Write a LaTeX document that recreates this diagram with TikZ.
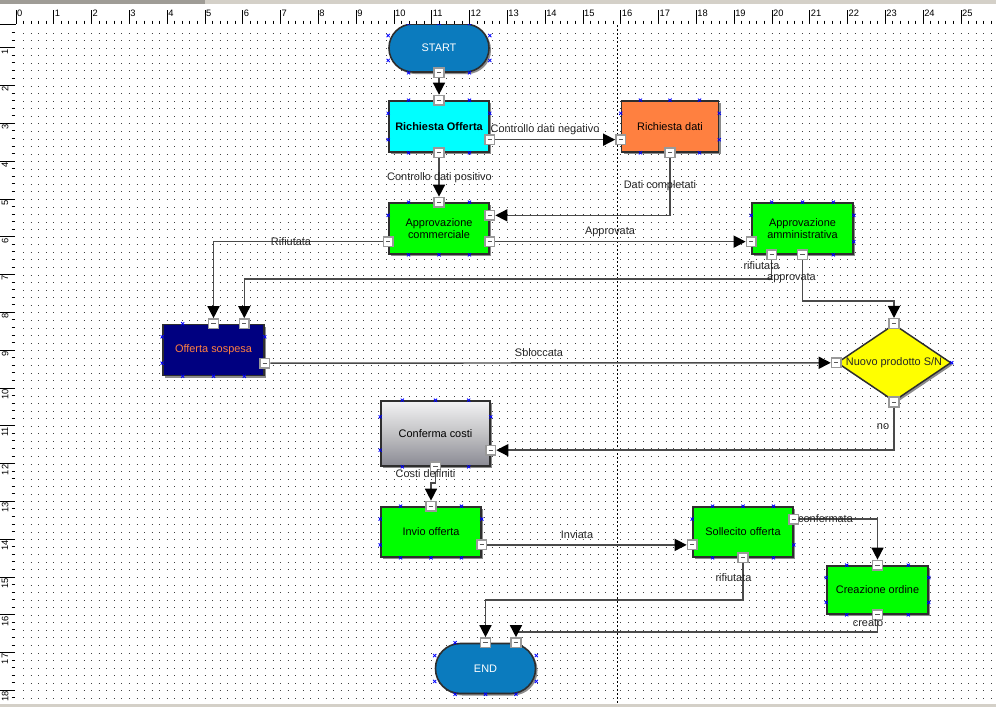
\documentclass[tikz,border=0pt]{standalone}
\usepackage{fontspec}
\setmainfont{Liberation Sans}
\usetikzlibrary{arrows.meta,calc,shapes.geometric,shadows}
\definecolor{startblue}{HTML}{0B7BBE}
\definecolor{aqua}{HTML}{00FFFF}
\definecolor{tangerine}{HTML}{FF8040}
\definecolor{lime}{HTML}{00FF00}
\definecolor{navy}{HTML}{000080}
\definecolor{lemon}{HTML}{FFFF00}
\definecolor{edge}{HTML}{2E2E2E}
\definecolor{wire}{HTML}{4A4A4A}
\definecolor{panel}{HTML}{D4D0C8}
\definecolor{steelA}{HTML}{F2F2F4}
\definecolor{steelB}{HTML}{C2C2C4}
\definecolor{steelC}{HTML}{8A8A94}
\tikzset{
  block/.style={draw=edge,line width=1.2pt,inner sep=0pt,align=center,font=\fontsize{8.2}{9.6}\selectfont,
    minimum width=75pt,minimum height=38.25pt,
    drop shadow={shadow xshift=1.5pt,shadow yshift=-1.5pt,fill=black!45,opacity=1}},
  term/.style={block,rounded corners=17.9pt,fill=startblue,text=white,minimum height=36pt},
  decision/.style={diamond,draw=edge,line width=1.1pt,fill=lemon,inner sep=0pt,
    minimum width=85.5pt,minimum height=57.75pt,
    drop shadow={shadow xshift=1.5pt,shadow yshift=-1.5pt,fill=black!45,opacity=1}},
  port/.style={draw=black!40,fill=white,line width=1.1pt,minimum size=7.2pt,inner sep=0pt,
    path picture={\draw[black!65,line width=.7pt] ([xshift=-1.6pt]path picture bounding box.center) -- ([xshift=1.6pt]path picture bounding box.center);}},
  wire/.style={draw=wire,line width=1.1pt,-{Triangle[length=9pt,width=9pt,color=black]}},
  lbl/.style={font=\fontsize{8.2}{9.6}\selectfont,text=black!85,inner sep=0pt},
  dotrow/.style={line width=.75pt,draw=black!75,dash pattern=on .75pt off 4.92pt},
  pageline/.style={line width=.75pt,dash pattern=on 1.5pt off 1.5pt},
  rulertick/.style={line width=.75pt,draw=black},
  rulenum/.style={font=\fontsize{7}{7}\selectfont,inner sep=0pt},
  xcross/.pic={\draw[blue,line width=.6pt] (-1.6,-1.6) -- (1.6,1.6) (-1.6,1.6) -- (1.6,-1.6);},
}
\newcommand{\xmarks}[1]{%
  \foreach \f in {.2,.5,.8}{
    \pic at ($(#1.north west)!\f!(#1.north east)$) {xcross};
    \pic at ($(#1.south west)!\f!(#1.south east)$) {xcross};}
  \foreach \f in {.25,.75}{
    \pic at ($(#1.north west)!\f!(#1.south west)$) {xcross};
    \pic at ($(#1.north east)!\f!(#1.south east)$) {xcross};}}
\newcommand{\port}[4]{\node[port] (#1) at ($(#2)!#3!(#4)$) {};}

\begin{document}
\begin{tikzpicture}[x=0.75pt,y=-0.75pt]
  \useasboundingbox (0,0) rectangle (996,707);
  \fill[white] (0,0) rectangle (996,707);
  % grid and page break
  \foreach \k in {3,...,91} \draw[dotrow] (23.1,{10.5+7.56*\k}) -- (996,{10.5+7.56*\k});
  \draw[pageline] (617,25) -- (617,704);

  % shapes
  \node[term] (start) at (439,48) {START};
  \node[block,fill=aqua,font=\fontsize{8.2}{9.6}\selectfont\bfseries] (ro) at (439,126.5) {Richiesta Offerta};
  \node[block,fill=tangerine,minimum width=72.75pt] (rd) at (670,126.5) {Richiesta dati};
  \node[block,fill=lime] (ac) at (439,228.5) {Approvazione\\commerciale};
  \node[block,fill=lime,minimum width=75.75pt] (aa) at (802.5,228.5) {Approvazione\\amministrativa};
  \node[block,fill=navy,text=tangerine,minimum width=75.75pt] (os) at (213.5,350) {Offerta sospesa};
  \node[decision] (np) at (894,362.75) {};
  \node[lbl] (np-txt) at (np) {Nuovo prodotto S/N};
  \node[block,top color=steelA,bottom color=steelC,middle color=steelB,minimum width=81.75pt,minimum height=48.75pt] (cc) at (435.5,433.5) {Conferma costi};
  \node[block,fill=lime,minimum height=37.5pt] (io) at (431,532) {Invio offerta};
  \node[block,fill=lime,minimum height=37.5pt] (so) at (743,532) {Sollecito offerta};
  \node[block,fill=lime,minimum width=75.75pt,minimum height=36pt] (co) at (877.5,590) {Creazione ordine};
  \node[term,minimum height=37.5pt,rounded corners=18.6pt] (end) at (485.5,668.5) {END};

  \foreach \b in {start,ro,rd,ac,aa,os,cc,io,so,co,end} {\xmarks{\b}}
  \pic at (np.east) {xcross};

  % ports
  \node[port] (start-b) at (start.south) {};
  \node[port] (ro-t) at (ro.north) {};
  \port{ro-r}{ro.north east}{.75}{ro.south east}
  \node[port] (ro-b) at (ro.south) {};
  \port{rd-l}{rd.north west}{.75}{rd.south west}
  \node[port] (rd-b) at (rd.south) {};
  \node[port] (ac-t) at (ac.north) {};
  \port{ac-r1}{ac.north east}{.25}{ac.south east}
  \port{ac-r2}{ac.north east}{.75}{ac.south east}
  \port{ac-l}{ac.north west}{.75}{ac.south west}
  \port{aa-l}{aa.north west}{.75}{aa.south west}
  \port{aa-b1}{aa.south west}{.2}{aa.south east}
  \node[port] (aa-b2) at (aa.south) {};
  \node[port] (os-t1) at (os.north) {};
  \port{os-t2}{os.north west}{.8}{os.north east}
  \port{os-r}{os.north east}{.75}{os.south east}
  \node[port] (np-t) at (np.north) {};
  \node[port] (np-l) at (np.west) {};
  \node[port] (np-b) at (np.south) {};
  \port{cc-r}{cc.north east}{.75}{cc.south east}
  \node[port] (cc-b) at (cc.south) {};
  \node[port] (io-t) at (io.north) {};
  \port{io-r}{io.north east}{.75}{io.south east}
  \port{so-l}{so.north west}{.75}{so.south west}
  \port{so-r}{so.north east}{.25}{so.south east}
  \node[port] (so-b) at (so.south) {};
  \node[port] (co-t) at (co.north) {};
  \node[port] (co-b) at (co.south) {};
  \node[port] (end-t1) at (end.north) {};
  \port{end-t2}{end.north west}{.8}{end.north east}

  % links
  \draw[wire] (start-b) -- (ro-t);
  \draw[wire] (ro-r) -- (rd-l);
  \draw[wire] (ro-b) -- (ac-t);
  \draw[wire] (rd-b) |- (ac-r1);
  \draw[wire] (ac-r2) -- (aa-l);
  \draw[wire] (ac-l) -| (os-t1);
  \draw[wire] (aa-b1) -- ++(0,24) -| (os-t2);
  \draw[wire] (aa-b2) -- ++(0,46) -| (np-t);
  \draw[wire] (os-r) -- (np-l);
  \draw[wire] (np-b) |- (cc-r);
  \draw[wire] (cc-b) -- ++(0,16) -| (io-t);
  \draw[wire] (io-r) -- (so-l);
  \draw[wire] (so-r) -| (co-t);
  \draw[wire] (so-b) -- ++(0,42) -| (end-t1);
  \draw[wire] (co-b) -- ++(0,17) -| (end-t2);

  % link labels
  \node[lbl] (l-neg) at (545,130) {Controllo dati negativo};
  \node[lbl] (l-pos) at (439.5,178) {Controllo dati positivo};
  \node[lbl] (l-dc) at (660,186) {Dati completati};
  \node[lbl] (l-appr) at (610,232) {Approvata};
  \node[lbl] (l-rif1) at (291,242) {Rifiutata};
  \node[lbl] (l-rif2) at (761.5,266) {rifiutata};
  \node[lbl] (l-appr2) at (791.5,278) {approvata};
  \node[lbl] (l-sbl) at (539,353) {Sbloccata};
  \node[lbl] (l-no) at (883,427) {no};
  \node[lbl] (l-cd) at (425.5,474) {Costi definiti};
  \node[lbl] (l-inv) at (577,535) {Inviata};
  \node[lbl] (l-conf) at (825.5,519) {confermata};
  \node[lbl] (l-rif3) at (733.5,578) {rifiutata};
  \node[lbl] (l-cre) at (868,623) {creato};

  % rulers
  \fill[white] (0,0) rectangle (996,24.3);
  \fill[white] (0,0) rectangle (15.5,707);
  \fill[panel!75!black] (0,0) rectangle (205,3.5);
  \fill[panel] (205,0) rectangle (996,3.5);
  \foreach \n in {0,...,25} {
    \draw[rulertick] ({16+37.8*\n},10) -- ({16+37.8*\n},24);
    \node[rulenum,anchor=north west] (rx\n) at ({16.8+37.8*\n},10) {\n};
  }
  \foreach \k in {1,...,129} \draw[rulertick] ({16+7.56*\k},20.5) -- ({16+7.56*\k},24);
  \draw[rulertick] (0,24) -- (16,24);
  \foreach \n in {1,...,18} {
    \draw[rulertick] (0,{10+37.8*\n}) -- (15,{10+37.8*\n});
    \node[rulenum,rotate=90,anchor=north east] (ry\n) at (1.5,{10.8+37.8*\n}) {\n};
  }
  \foreach \k in {3,...,91} \draw[rulertick] (11.5,{10+7.56*\k}) -- (15,{10+7.56*\k});
  \fill[panel] (0,704) rectangle (996,707);
\end{tikzpicture}
\end{document}
